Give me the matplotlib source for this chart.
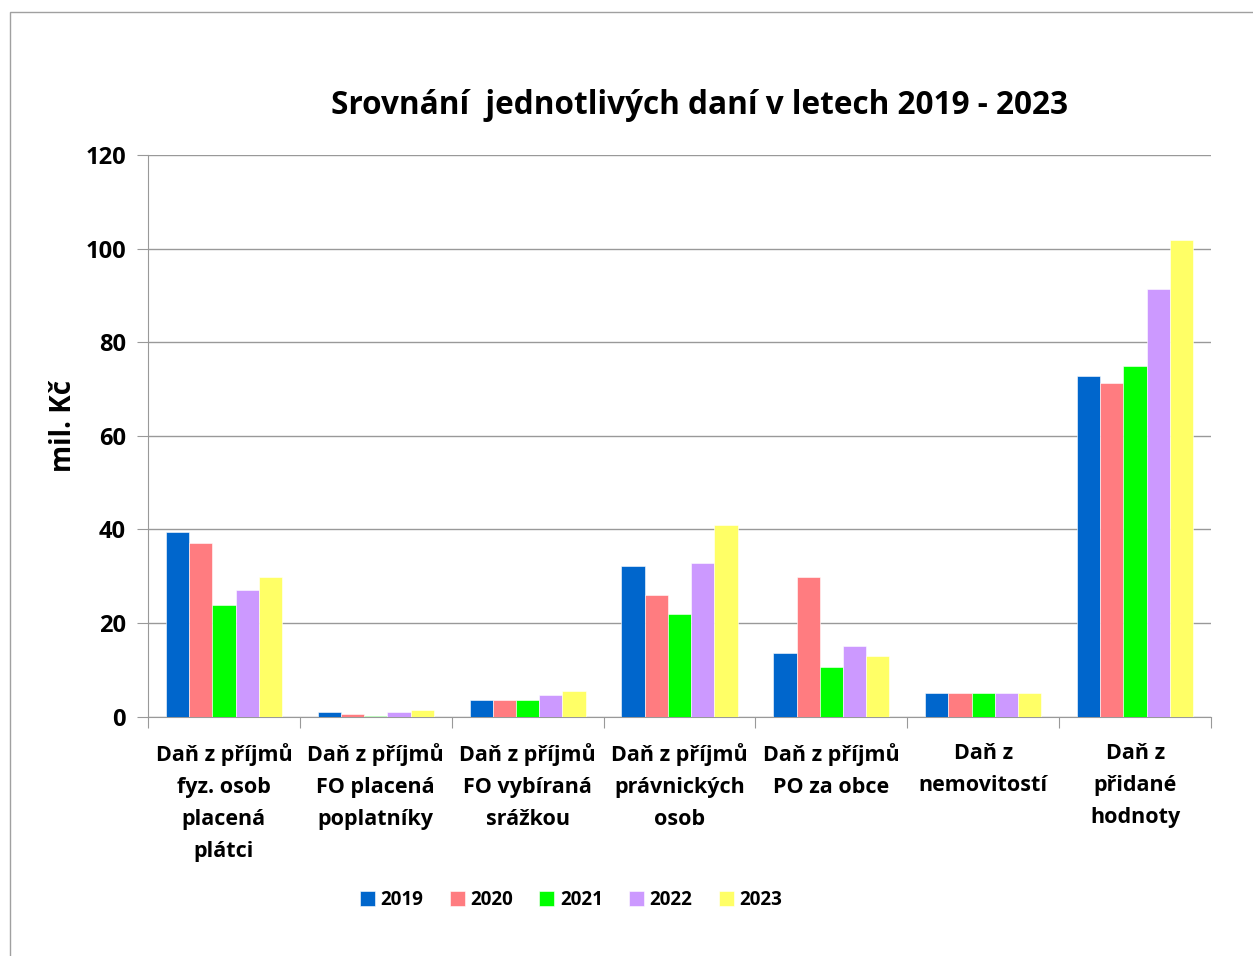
import numpy as np
import matplotlib.pyplot as plt
from matplotlib.patches import Rectangle

categories = [
    "Daň z příjmů\nfyz. osob\nplacená\nplátci",
    "Daň z příjmů\nFO placená\npoplatníky",
    "Daň z příjmů\nFO vybíraná\nsrážkou",
    "Daň z příjmů\nprávnických\nosob",
    "Daň z příjmů\nPO za obce",
    "Daň z\nnemovitostí",
    "Daň z\npřidané\nhodnoty",
]
years = ["2019", "2020", "2021", "2022", "2023"]
v2019 = [39.4, 1.0, 3.5, 32.2, 13.6, 5.0, 72.8]
v2020 = [37.1, 0.5, 3.5, 26.0, 29.9, 5.0, 71.3]
v2021 = [23.9, 0.1, 3.5, 21.9, 10.5, 5.0, 74.9]
v2022 = [27.1, 1.0, 4.5, 32.7, 15.0, 5.0, 91.3]
v2023 = [29.9, 1.4, 5.4, 40.9, 13.0, 5.0, 101.9]
series = [v2019, v2020, v2021, v2022, v2023]
colors = ["#0066CC", "#FF7C80", "#00FF00", "#CC99FF", "#FFFF66"]

plt.rcParams['font.family'] = ['Open Sans', 'DejaVu Sans']

fig = plt.figure(figsize=(12.53, 9.56), dpi=100)
ax = fig.add_axes([148 / 1253, 1 - 716.5 / 956, (1211 - 148) / 1253, (716.5 - 155) / 956])

# rámeček kolem grafu
fig.patches.append(Rectangle((10 / 1253, -0.1), 1.2, 1 - 12 / 956 + 0.1,
                             transform=fig.transFigure, fill=False,
                             edgecolor='#a0a0a0', linewidth=1))

x = np.arange(len(categories))
w = 0.153
for i, (vals, c, yr) in enumerate(zip(series, colors, years)):
    ax.bar(x + (i - 2) * w, vals, width=w, color=c, label=yr,
           edgecolor='white', linewidth=0.4, zorder=3)

ax.set_xlim(-0.5, len(categories) - 0.5)
ax.set_ylim(0, 120)
ax.set_yticks(range(0, 121, 20))
ax.grid(axis='y', color='#999999', linewidth=1, zorder=0)

for s in ['top', 'right']:
    ax.spines[s].set_visible(False)
for s in ['left', 'bottom']:
    ax.spines[s].set_color('#999999')

ax.set_xticks(np.arange(len(categories) + 1) - 0.5, minor=False)
ax.set_xticklabels([])
ax.tick_params(axis='x', length=8, color='#999999', direction='out')
ax.set_xticks(x, minor=True)
ax.set_xticklabels(categories, minor=True, fontsize=15.5, fontweight='bold',
                   linespacing=1.68)
ax.tick_params(axis='x', which='minor', length=0, pad=19)
ax.tick_params(axis='y', length=8, color='#999999', labelsize=17, pad=8)
for t in ax.get_yticklabels():
    t.set_fontweight('bold')

ax.set_ylabel("mil. Kč", fontsize=20, fontweight='bold')
ax.yaxis.set_label_coords(-0.066, 0.517)
fig.text(700 / 1253, 1 - 106 / 956, "Srovnání  jednotlivých daní v letech 2019 - 2023",
         ha='center', va='center', fontsize=22.7, fontweight='bold')

fig.legend(loc='center', bbox_to_anchor=(571 / 1253, 1 - 900 / 956), ncol=5,
           frameon=False, handlelength=0.8, handleheight=0.8, handletextpad=0.3,
           columnspacing=1.4, prop={'weight': 'bold', 'size': 13.5})

fig.savefig("out.png", dpi=100)
